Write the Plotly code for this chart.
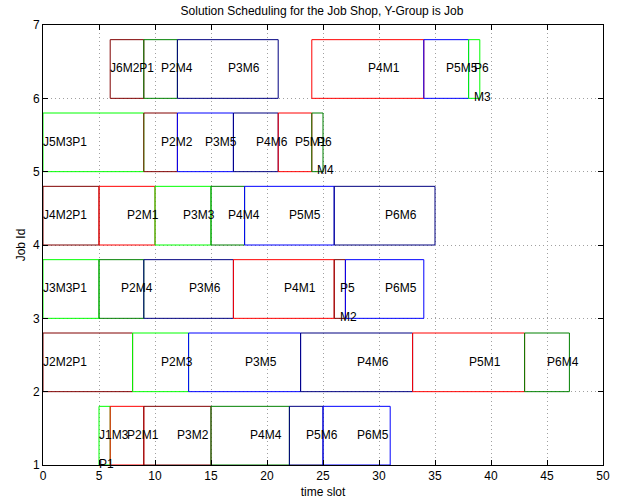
import plotly.graph_objects as go

job_ids = [1, 2, 3, 4, 5, 6]
job_machines = [
    [3, 1, 2, 4, 6, 5],
    [2, 3, 5, 6, 1, 4],
    [3, 4, 6, 1, 2, 5],
    [2, 1, 3, 4, 5, 6],
    [3, 2, 5, 6, 1, 4],
    [2, 4, 6, 1, 5, 3],
]
job_starts = [
    [5, 6, 9, 15, 22, 25],
    [0, 8, 13, 23, 33, 43],
    [0, 5, 9, 17, 26, 27],
    [0, 5, 10, 15, 18, 26],
    [0, 9, 12, 17, 21, 24],
    [6, 9, 12, 24, 34, 38],
]
job_ends = [
    [6, 9, 15, 22, 25, 31],
    [8, 13, 23, 33, 43, 47],
    [5, 9, 17, 26, 27, 34],
    [5, 10, 15, 18, 26, 35],
    [9, 12, 17, 21, 24, 25],
    [9, 12, 21, 34, 38, 39],
]
machine_colors = {1: "rgb(255,0,0)", 2: "rgb(128,0,0)", 3: "rgb(0,255,0)",
                  4: "rgb(0,128,0)", 5: "rgb(0,0,255)", 6: "rgb(0,0,128)"}
x_ticks = [0, 5, 10, 15, 20, 25, 30, 35, 40, 45, 50]
y_ticks = [1, 2, 3, 4, 5, 6, 7]
bar_h = 0.8

FONT = "Liberation Sans, Arial, Helvetica, sans-serif"
fig = go.Figure()
annotations = []
for j, ms, ss, es in zip(job_ids, job_machines, job_starts, job_ends):
    for k, (m, s, e) in enumerate(zip(ms, ss, es)):
        fig.add_trace(go.Scatter(
            x=[s, e, e, s, s], y=[j, j, j + bar_h, j + bar_h, j],
            mode="lines", line=dict(color=machine_colors[m], width=1),
            hoverinfo="skip", showlegend=False))
        label = (f"J{j}M{m}P1" if k == 0 else f"P{k+1}M{m}")
        lx = s if k == 0 else (s + e) / 2
        if e - s <= 1:
            parts = [(label[:-2], j + 0.41), (label[-2:], j + 0.02)]
        else:
            parts = [(label, j + 0.41)]
        for txt, ly in parts:
            annotations.append(dict(x=lx, y=ly, text=txt, showarrow=False,
                                    xanchor="left", yanchor="middle",
                                    xshift=-1, borderpad=0,
                                    font=dict(family=FONT, size=12, color="black")))

axis_common = dict(showline=True, linecolor="black", linewidth=1, mirror="ticks",
                   ticks="inside", ticklen=5, tickcolor="black", automargin=False,
                   showgrid=True, gridcolor="rgb(160,160,160)", griddash="1px,3px", gridwidth=1,
                   zeroline=False, tickfont=dict(family=FONT, size=12, color="black"))

W, H = 626, 504
fig.update_layout(
    width=W, height=H,
    margin=dict(l=43, r=23, t=25, b=39),
    paper_bgcolor="white", plot_bgcolor="white",
    title=dict(text="Solution Scheduling for the Job Shop, Y-Group is Job", automargin=False,
               x=322 / W, xanchor="center", y=1 - 11 / H, yanchor="middle",
               font=dict(family=FONT, size=12, color="black")),
    xaxis=dict(range=[0, 50], tickvals=x_ticks, title=dict(text="time slot", standoff=5,
               font=dict(family=FONT, size=12, color="black")), **axis_common),
    yaxis=dict(range=[1, 7], tickvals=y_ticks, title=dict(text="Job Id", standoff=4,
               font=dict(family=FONT, size=12, color="black")), **axis_common),
    annotations=annotations,
)
fig.write_html("out.html", config={"displayModeBar": False},
               post_script="document.body.style.margin='0px';")
